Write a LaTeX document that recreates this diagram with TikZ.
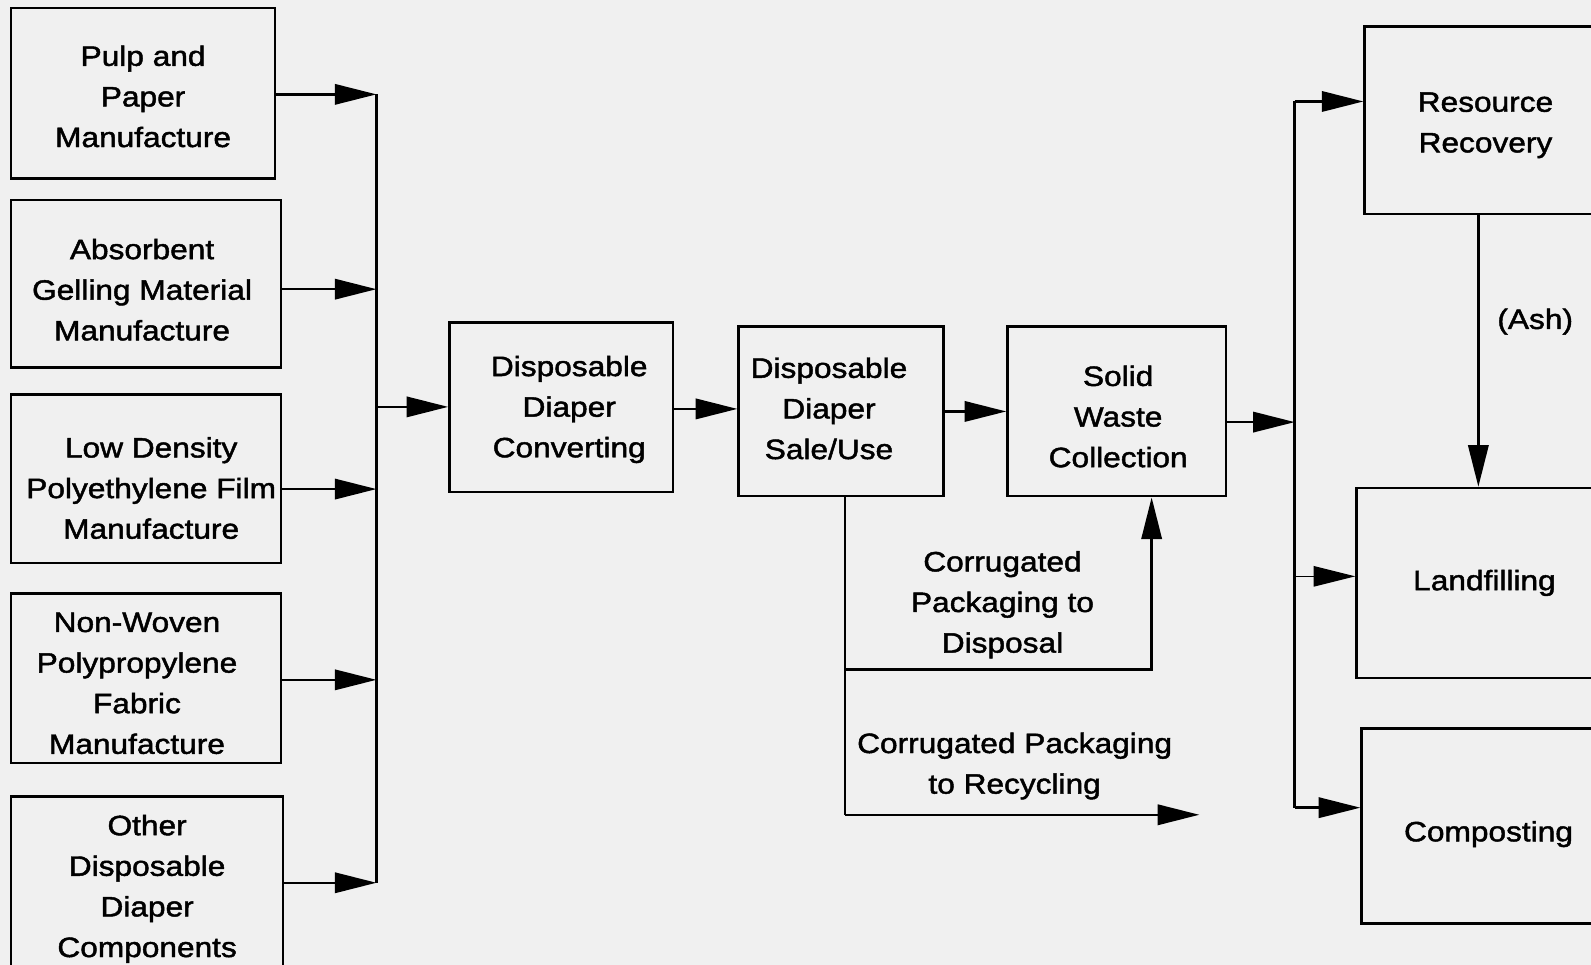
\documentclass[tikz,border=0pt]{standalone}
\usepackage{fontspec}
\setmainfont{Liberation Sans}[FakeStretch=1.13,FakeBold=1.6]
\usetikzlibrary{arrows.meta}
\definecolor{bg}{RGB}{240,240,240}
\newcommand\dfont{\fontsize{7.85pt}{11.38pt}\selectfont}
\begin{document}
\begin{tikzpicture}[x=0.01cm,y=-0.01cm,
  box/.style={draw, line width=0.7pt, fill=bg, inner sep=0pt},
  lbl/.style={align=center, inner sep=0pt, font=\dfont},
  arr/.style={line width=0.7pt, -{Triangle[length=0.41cm,width=0.2cm]}},
  ln/.style={line width=0.7pt}]
\fill[bg] (0,0) rectangle (1568,951);
\useasboundingbox (0,0) rectangle (1568,951);

% left column
\node[box, minimum width=2.60cm, minimum height=1.68cm] (pulp) at (141,92) {};
\node[box, minimum width=2.66cm, minimum height=1.65cm] (absorb) at (144,279.5) {};
\node[box, minimum width=2.66cm, minimum height=1.66cm] (ldpe) at (144,472) {};
\node[box, minimum width=2.66cm, minimum height=1.67cm] (nonwoven) at (144,668.5) {};
\node[box, minimum width=2.68cm, minimum height=1.76cm] (other) at (145,873) {};
\node[lbl] (pulpt) at (141,95) {Pulp and\\Paper\\Manufacture};
\node[lbl] (absorbt) at (140,285.5) {Absorbent\\Gelling Material\\Manufacture};
\node[lbl] (ldpet) at (149,481) {Low Density\\Polyethylene Film\\Manufacture};
\node[lbl] (nonwovent) at (135,673.5) {Non-Woven\\Polypropylene\\Fabric\\Manufacture};
\node[lbl] (othert) at (145,876) {Other\\Disposable\\Diaper\\Components};

% middle row
\node[box, minimum width=2.20cm, minimum height=1.67cm] (conv) at (553,401.5) {};
\node[box, minimum width=2.02cm, minimum height=1.67cm] (sale) at (829,405.5) {};
\node[box, minimum width=2.15cm, minimum height=1.67cm] (sw) at (1100.5,405.5) {};
\node[lbl] (convt) at (561,403.5) {Disposable\\Diaper\\Converting};
\node[lbl] (salet) at (817,402.5) {Disposable\\Diaper\\Sale/Use};
\node[lbl] (swt) at (1102,410.5) {Solid\\Waste\\Collection};

% right column
\node[box, minimum width=2.38cm, minimum height=1.85cm] (rr) at (1464,118.5) {};
\node[box, minimum width=2.52cm, minimum height=1.87cm] (land) at (1463,574.5) {};
\node[box, minimum width=2.50cm, minimum height=1.92cm] (comp) at (1467,814) {};
\node[lbl] (rrt) at (1464,123.5) {Resource\\Recovery};
\node[lbl] (landt) at (1463,574.5) {Landfilling};
\node[lbl] (compt) at (1467,822) {Composting};

% left bus
\coordinate (b1) at (371,93);
\coordinate (b2) at (371,285);
\coordinate (b3) at (371,482);
\coordinate (b4) at (371,670);
\coordinate (b5) at (371,870);
\coordinate (bc) at (371,401);
\draw[arr] (pulp.east |- b1) -- (b1);
\draw[arr] (absorb.east |- b2) -- (b2);
\draw[arr] (ldpe.east |- b3) -- (b3);
\draw[arr] (nonwoven.east |- b4) -- (b4);
\draw[arr] (other.east |- b5) -- (b5);
\draw[ln] (b1) -- (b5);
\draw[arr] (bc) -- (conv.west |- bc);

% middle connectors
\coordinate (cs) at (663,403);
\draw[arr] (conv.east |- cs) -- (sale.west |- cs);
\draw[arr] (sale.east) -- (sw.west);

% right bus
\coordinate (r0) at (1276,416);
\coordinate (r1) at (1276,100);
\coordinate (r2) at (1276,568);
\coordinate (r3) at (1276,796);
\draw[arr] (sw.east |- r0) -- (r0);
\draw[ln] (r1) -- (r3);
\draw[arr] (r1) -- (rr.west |- r1);
\draw[arr, line width=0.45pt] (r2) -- (land.west |- r2);
\draw[arr] (r3) -- (comp.west |- r3);

% ash
\coordinate (ash) at (1457,0);
\draw[arr] (rr.south -| ash) -- (land.north -| ash);
\node[lbl] (ashl) at (1513,317) {(Ash)};

% corrugated packaging
\coordinate (sd) at (833,0);
\coordinate (dj) at (833,660);
\coordinate (dk) at (1135,660);
\coordinate (rj) at (833,803);
\coordinate (re) at (1182,803);
\draw[ln] (sale.south -| sd) -- (rj);
\draw[arr] (dj) -- (dk) -- (sw.south -| dk);
\draw[arr] (rj) -- (re);
\node[lbl] (displ) at (988,596) {Corrugated\\Packaging to\\Disposal};
\node[lbl] (recl) at (1000,755) {Corrugated Packaging\\to Recycling};
\end{tikzpicture}
\end{document}
